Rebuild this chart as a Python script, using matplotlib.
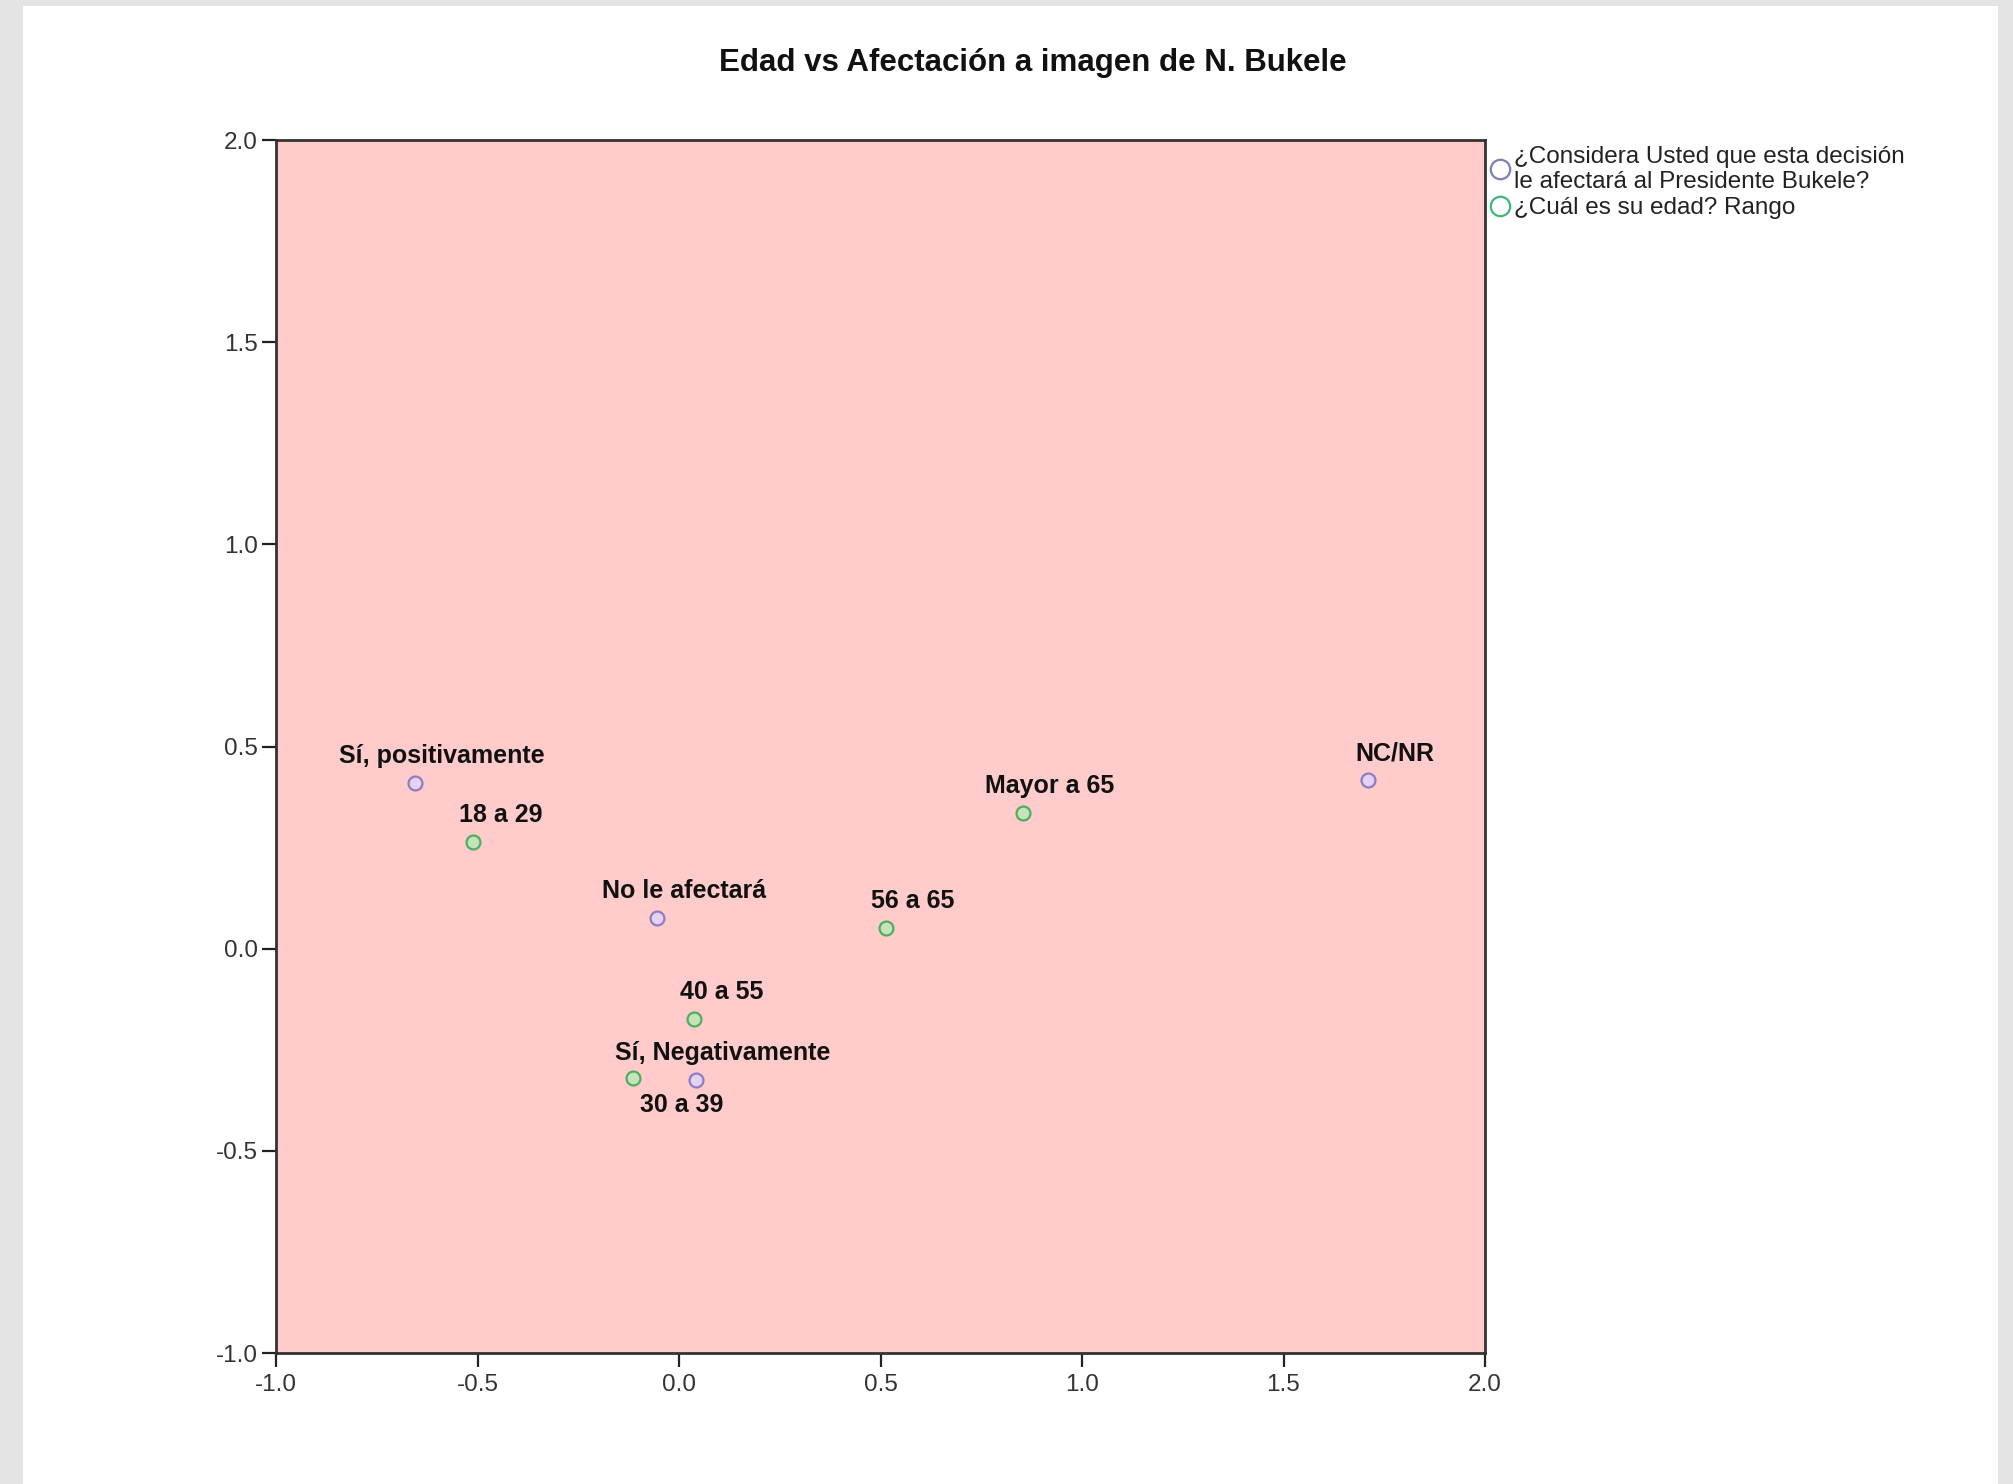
import matplotlib
matplotlib.use("Agg")
import matplotlib.pyplot as plt
from matplotlib.lines import Line2D
from matplotlib.patches import Rectangle

plt.rcParams['font.family'] = ['Liberation Sans', 'DejaVu Sans']

# --- data ---
resp_labels = ["Sí, positivamente", "No le afectará", "Sí, Negativamente", "NC/NR"]
resp_x = [-0.656, -0.054, 0.041, 1.710]
resp_y = [0.409, 0.075, -0.326, 0.416]

age_labels = ["18 a 29", "30 a 39", "40 a 55", "56 a 65", "Mayor a 65"]
age_x = [-0.510, -0.115, 0.038, 0.513, 0.853]
age_y = [0.263, -0.319, -0.173, 0.050, 0.336]

legend_labels = ["¿Considera Usted que esta decisión\nle afectará al Presidente Bukele?",
                 "¿Cuál es su edad? Rango"]
title = "Edad vs Afectación a imagen de N. Bukele"
ticks = [-1.0, -0.5, 0.0, 0.5, 1.0, 1.5, 2.0]

# label offsets in pixels (most labels sit above-right of the point)
default_off = (27, 27)
special_off = {"30 a 39": (49, -27)}

purple_edge, purple_face = '#8e7cc6', '#e4d2ee'
green_edge, green_face = '#4fae5e', '#c6e4bc'

fig = plt.figure(figsize=(20.13, 14.84), dpi=100)
fig.patch.set_facecolor('#e4e4e4')
# white panel of the screenshot
fig.patches.append(Rectangle((23/2013, 0), (1998-23)/2013, 1-6/1484,
                             transform=fig.transFigure, facecolor='white',
                             edgecolor='none', zorder=-10))

ax = fig.add_axes([276/2013, 1-1353/1484, (1485-276)/2013, (1353-140)/1484])
ax.set_zorder(1)
ax.set_facecolor('#ffcbcb')
ax.set_xlim(-1, 2)
ax.set_ylim(-1, 2)
ax.set_xticks(ticks)
ax.set_yticks(ticks)
ax.set_xticklabels([f"{t:.1f}" for t in ticks])
ax.set_yticklabels([f"{t:.1f}" for t in ticks])
ax.tick_params(direction='out', length=10, width=1.6, color='#222222',
               labelsize=17.5, labelcolor='#333333')
ax.tick_params(axis='x', pad=5)
ax.tick_params(axis='y', pad=3)
for s in ax.spines.values():
    s.set_color('#333333')
    s.set_linewidth(2)

ax.plot(resp_x, resp_y, 'o', ms=10, mew=1.6, mec=purple_edge, mfc=purple_face, zorder=3)
ax.plot(age_x, age_y, 'o', ms=10, mew=1.6, mec=green_edge, mfc=green_face, zorder=3)

for lab, x, y in list(zip(resp_labels, resp_x, resp_y)) + list(zip(age_labels, age_x, age_y)):
    off = special_off.get(lab, default_off)
    ax.annotate(lab, (x, y), xytext=off, textcoords='offset pixels',
                ha='center', va='center', fontsize=18, fontweight='bold',
                color='#111111')

fig.text(0.513, 1-63/1484, title, ha='center', va='center',
         fontsize=22.5, fontweight='bold', color='#111111')

handles = [Line2D([], [], ls='none', marker='o', ms=14, mew=1.6, mec='#7c80b4', mfc='none'),
           Line2D([], [], ls='none', marker='o', ms=14, mew=1.6, mec='#3db878', mfc='none')]
leg = fig.legend(handles, legend_labels, loc='upper left',
                 bbox_to_anchor=(1490/2013, 1-146/1484), frameon=False,
                 fontsize=17.5, handlelength=0.8, handletextpad=0.2,
                 labelspacing=0.2, borderpad=0, borderaxespad=0)
for t in leg.get_texts():
    t.set_linespacing(1.15)
    t.set_color('#222222')

fig.savefig('out.png', dpi=100, facecolor=fig.get_facecolor())
